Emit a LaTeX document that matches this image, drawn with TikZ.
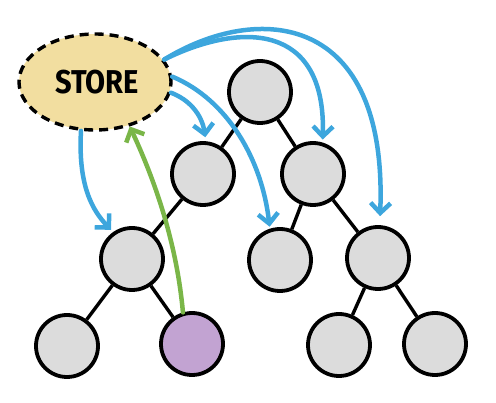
\documentclass[tikz,border=0pt]{standalone}
\usepackage{fontspec}
\setmainfont{Fira Sans}
\usetikzlibrary{shapes.geometric,arrows.meta}
\definecolor{nodegray}{HTML}{DCDCDC}
\definecolor{storefill}{HTML}{F2DEA0}
\definecolor{purplefill}{HTML}{C2A3D2}
\definecolor{bluearrow}{HTML}{3DA6DD}
\definecolor{greenarrow}{HTML}{7AB648}
\tikzset{
  treenode/.style={circle, draw=black, line width=3.8pt, fill=nodegray, minimum size=62pt, inner sep=0pt},
  treeedge/.style={draw=black, line width=3.4pt},
  storenode/.style={ellipse, draw=black, line width=3.4pt, dash pattern=on 9pt off 6pt, fill=storefill, minimum width=152pt, minimum height=96pt, inner sep=0pt},
  bluearr/.style={draw=bluearrow, line width=4.5pt, line cap=round, -{Straight Barb[length=10pt,width=20pt,line width=4.5pt]}},
  greenarr/.style={draw=greenarrow, line width=4.5pt, line cap=round, -{Straight Barb[length=10pt,width=20pt,line width=4.5pt]}}
}
\begin{document}
\begin{tikzpicture}[x=1pt,y=-1pt]
\useasboundingbox (0,0) rectangle (496,403);
% store
\node[storenode] (store) at (95,82) {};
\node[font=\fontsize{33}{33}\selectfont\bfseries] (storetext) at (97,82) {\scalebox{0.88}[1]{STORE}};
% tree nodes
\node[treenode] (root) at (260,92) {};
\node[treenode] (l2l) at (203,174) {};
\node[treenode] (l2r) at (313,174) {};
\node[treenode] (l3l) at (132,259) {};
\node[treenode] (l3m) at (280,260) {};
\node[treenode] (l3r) at (378,258) {};
\node[treenode] (lf1) at (67,346) {};
\node[treenode, fill=purplefill] (lf2) at (192,344) {};
\node[treenode] (lf3) at (339,345) {};
\node[treenode] (lf4) at (435,344) {};
% tree edges
\draw[treeedge] (root) -- (l2l);
\draw[treeedge] (root) -- (l2r);
\draw[treeedge] (l2l) -- (l3l);
\draw[treeedge] (l2r) -- (l3m);
\draw[treeedge] (l2r) -- (l3r);
\draw[treeedge] (l3l) -- (lf1);
\draw[treeedge] (l3l) -- (lf2);
\draw[treeedge] (l3r) -- (lf3);
\draw[treeedge] (l3r) -- (lf4);
% blue arrows
\draw[bluearr, shorten >=3pt] (store.254) .. controls (78,185) and (92,210) .. (l3l.125);
\draw[bluearr, shorten >=4pt] (store.-8) .. controls (190,100) and (202,115) .. (l2l.85);
\draw[bluearr, shorten >=2pt] (store.4) .. controls (228,100) and (262,160) .. (l3m.108);
\draw[bluearr, shorten >=3pt] (store.18) .. controls (240,22) and (326,22) .. (l2r.73);
\draw[bluearr, shorten >=9pt] (store.18) .. controls (258,2) and (388,12) .. (l3r.87);
% green arrow
\draw[greenarr] (lf2.106) .. controls (176,235) and (150,170) .. (store.308);
\end{tikzpicture}
\end{document}
